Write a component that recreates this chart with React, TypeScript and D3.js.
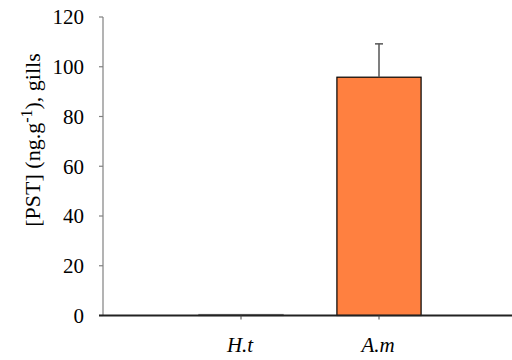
import React from "react";
import * as d3 from "d3";

const categories = ["H.t", "A.m"];
const values = [0.4, 95.8];
const errors = [0, 13.4];
const yTicks = [0, 20, 40, 60, 80, 100, 120];
const barColors = ["#ff8040", "#ff8040"];

export default function App() {
  const W = 512, H = 360;
  const x0 = 103, y0 = 315.5, yTop = 17;
  const y = d3.scaleLinear().domain([0, 120]).range([y0, yTop]);
  const x = d3.scalePoint<string>().domain(["_a", ...categories, "_b"]).range([x0, 517]);
  const step = x.step();
  const bw = step * 0.61;
  return (
    <svg width={W} height={H} className="chart" style={{ position: "absolute", left: 0, top: 0, background: "#fff" }}>
      <style>{`.chart text { font-family: "Times New Roman", "Liberation Serif", Tinos, serif !important; }`}</style>
      <line x1={x0} x2={x0} y1={yTop} y2={y0} stroke="#808080" strokeWidth={1.2} />
      {yTicks.map((t) => (
        <g key={t}>
          <line x1={x0 - 4} x2={x0} y1={y(t)} y2={y(t)} stroke="#808080" strokeWidth={1.2} />
          <text x={84} y={y(t)} dy="0.35em" textAnchor="end" fontSize={21} fill="#000">
            {String(t)}
          </text>
        </g>
      ))}
      {categories.map((c, i) => {
        const cx = x(c)!;
        return (
          <g key={c}>
            <rect
              x={cx - bw / 2}
              y={y(values[i])}
              width={bw}
              height={y0 - y(values[i])}
              fill={barColors[i]}
              stroke={i === 0 ? "#808080" : "#000"}
              strokeWidth={1.2}
            />
            {errors[i] > 0 && (
              <g stroke="#555" strokeWidth={1.5}>
                <line x1={cx} x2={cx} y1={y(values[i])} y2={y(values[i] + errors[i])} />
                <line x1={cx - 4} x2={cx + 4} y1={y(values[i] + errors[i])} y2={y(values[i] + errors[i])} />
              </g>
            )}
          </g>
        );
      })}
      <line x1={x0 - 4} x2={W} y1={y0} y2={y0} stroke="#222" strokeWidth={2} />
      {categories.map((c) => (
        <g key={c}>
          <line x1={x(c)!} x2={x(c)!} y1={y0} y2={y0 + 4} stroke="#444" strokeWidth={1} />
          <text x={x(c)! - 1} y={352} textAnchor="middle" fontSize={21} fontStyle="italic" fill="#000">
            {c}
          </text>
        </g>
      ))}
      <text transform="translate(40, 140) rotate(-90)" textAnchor="middle" fontSize={22} fill="#000">
        [PST] (ng.g<tspan dy={-8} fontSize={16}>-1</tspan>
        <tspan dy={8}>), gills</tspan>
      </text>
    </svg>
  );
}
